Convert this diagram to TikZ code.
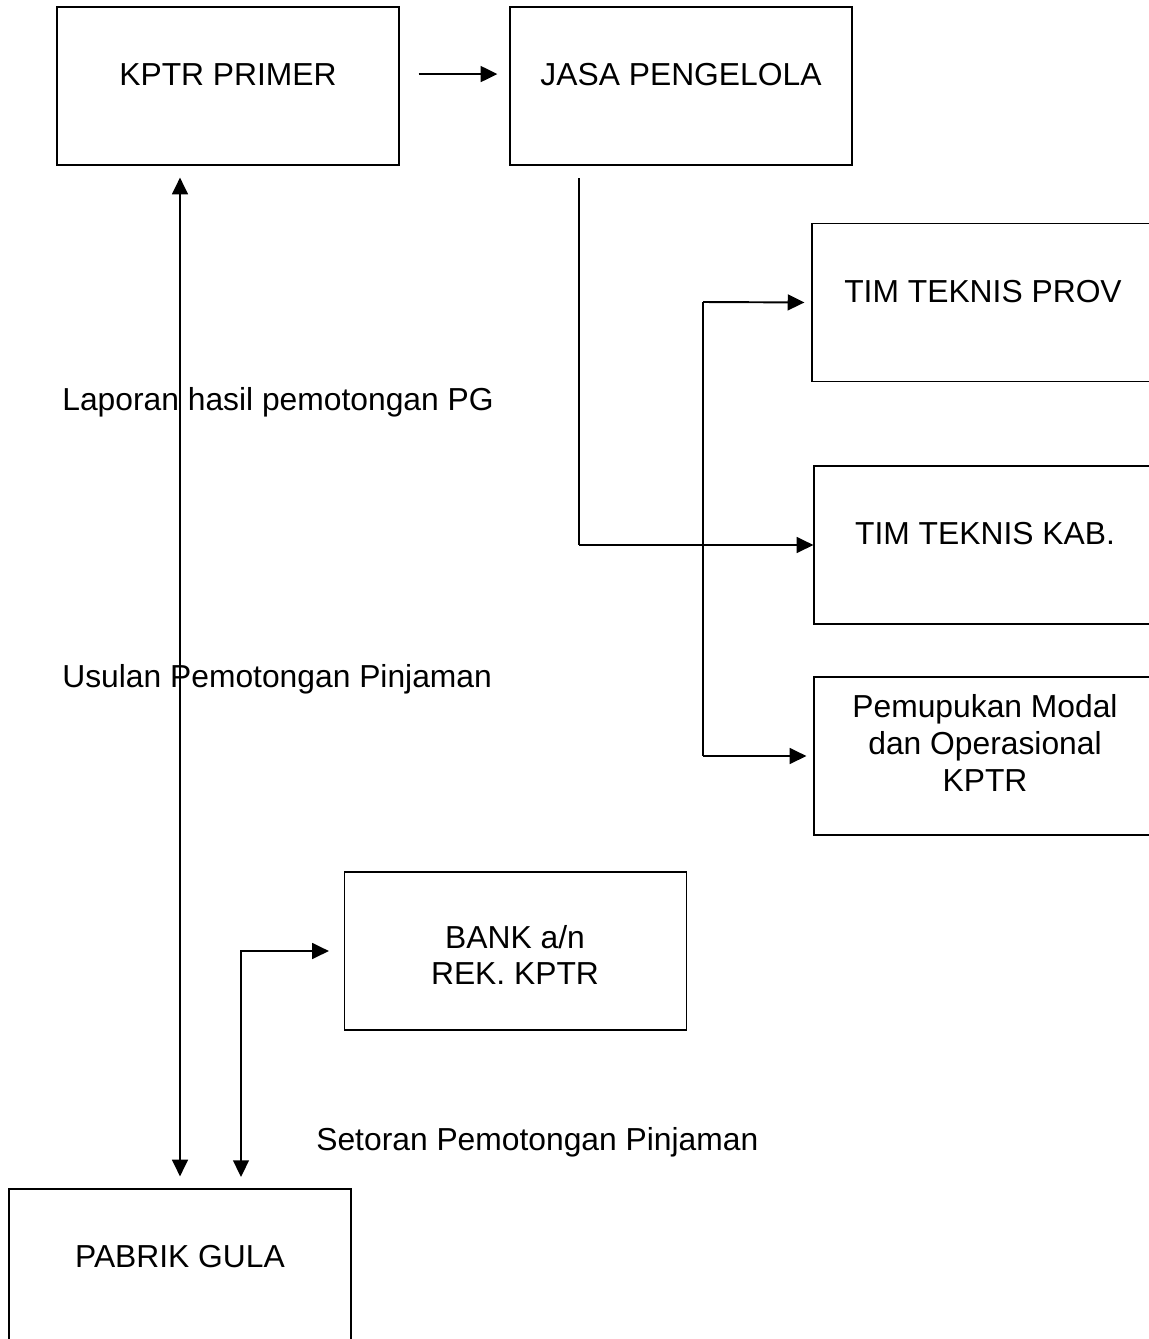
\documentclass[tikz,border=0pt]{standalone}
\usepackage{fontspec}
\setmainfont{Liberation Sans}
\usetikzlibrary{arrows.meta}

\begin{document}
\begin{tikzpicture}[x=0.02cm, y=-0.02cm,
    box/.style={draw, line width=0.7pt, minimum width=6.84cm, minimum height=3.16cm, inner sep=0pt},
    txt/.style={font=\fontsize{18.1}{21}\selectfont, align=center, inner sep=0pt},
    arr/.style={line width=1.1pt, -{Triangle[length=9.5pt, width=9pt]}},
    dbl/.style={line width=1pt, {Triangle[length=9.5pt, width=9pt]}-{Triangle[length=9.5pt, width=9pt]}},
    plainline/.style={line width=0.7pt}]
    \useasboundingbox (0,0) rectangle (1149,1339);
    \clip (0,0) rectangle (1149,1339);
    \node[box](kptr) at (228,86) {};
    \node[box](jasa) at (681,86) {};
    \node[box](prov) at (983,302.5) {};
    \node[box](kab) at (985,545) {};
    \node[box](pem) at (985,756) {};
    \node[box](bank) at (515.5,951) {};
    \node[box](pabrik) at (180,1268) {};
    \node[txt, anchor=base](kptrt) at (228,85) {KPTR PRIMER};
    \node[txt, anchor=base](jasat) at (681,85) {JASA PENGELOLA};
    \node[txt, anchor=base](provt) at (983,302) {TIM TEKNIS PROV};
    \node[txt, anchor=base](kabt) at (985,544) {TIM TEKNIS KAB.};
    \node[txt](pemt) at (985,743) {Pemupukan Modal\\dan Operasional\\KPTR};
    \node[txt](bankt) at (515,955) {BANK a/n\\REK. KPTR};
    \node[txt, anchor=base](pabrikt) at (180,1267) {PABRIK GULA};
    \node[txt, anchor=base west](lap) at (62,410) {Laporan hasil pemotongan PG};
    \node[txt, anchor=base west](usul) at (62,687) {Usulan Pemotongan Pinjaman};
    \node[txt, anchor=base west](setor) at (316,1150) {Setoran Pemotongan Pinjaman};
    \coordinate (j1) at (579,178);
    \coordinate (b1) at (703,302);
    \coordinate (b2) at (703,756);
    \coordinate (g1) at (241,1177);
    \draw[arr, shorten <=0.38cm, shorten >=0.24cm] (kptr.east |- kptrt) -- (jasa.west |- kptrt);
    \draw[dbl, shorten <=0.24cm, shorten >=0.24cm] (pabrik.north) -- (pabrik.north |- kptr.south);
    \draw[plainline] (j1) -- (j1 |- kab.west);
    \draw[arr] (j1 |- kab.west) -- (kab.west);
    \draw[plainline] (b1) -- (b2);
    \draw[arr, shorten >=0.14cm] (b1) -- (prov.west);
    \draw[arr, shorten >=0.14cm] (b2) -- (pem.west);
    \draw[dbl, shorten >=0.3cm] (g1) |- (bank.west);
\end{tikzpicture}
\end{document}
